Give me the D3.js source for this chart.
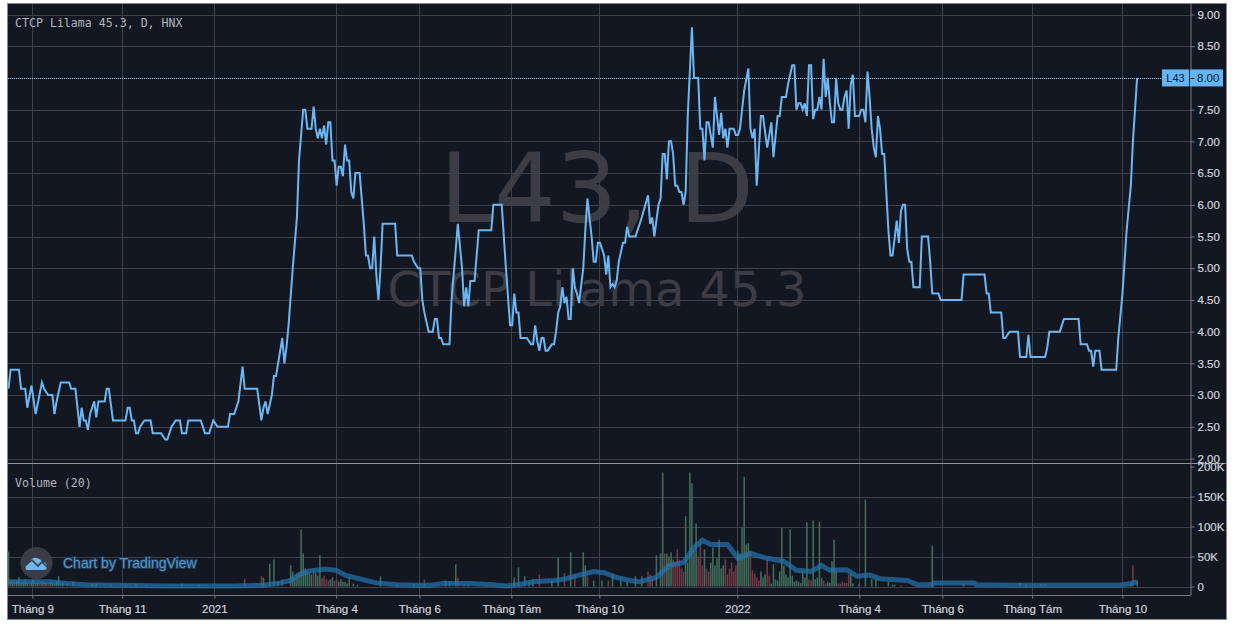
<!DOCTYPE html>
<html lang="vi">
<head>
<meta charset="utf-8">
<title>L43, D</title>
<script src="https://cdn.jsdelivr.net/npm/d3@7"></script>
<style>
  html, body { margin: 0; padding: 0; background: #fff; }
  svg { display: block; }
  .axis text { font-family: "Liberation Sans", Arial, sans-serif; font-size: 11.5px; fill: #d1d4dc; stroke: #d1d4dc; stroke-width: .2px; }
  .axis path, .axis line { stroke: #787b86; }
  .mono { font-family: "DejaVu Sans Mono", monospace; font-size: 11.6px; fill: #b2b5be; }
  .mark { font-family: "DejaVu Sans", sans-serif; fill: #3c3d44; }
</style>
</head>
<body>
<div id="chart"></div>
<script>
const priceBars = [0,1,5,6,8,9,11,13,16,17,19,21,22,23,25,29,30,32,34,35,36,37,38,39,41,42,43,46,47,48,50,56,57,58,59,60,61,62,63,65,68,69,73,75,76,78,80,82,83,85,86,92,94,96,98,100,105,106,108,110,112,113,119,121,122,123,124,126,127,128,131,132,133,134,136,138,139,141,142,143,145,146,147,148,149,150,151,152,153,154,155,156,157,158,159,160,161,162,163,164,165,166,168,170,171,172,173,174,175,176,177,178,179,185,186,193,194,196,197,198,199,201,203,204,205,206,207,208,211,212,215,217,218,219,220,221,223,225,231,232,236,238,240,241,242,243,244,245,248,250,251,252,253,254,255,256,257,258,260,261,262,263,264,265,266,267,268,269,270,271,272,273,275,276,277,279,280,281,282,283,285,286,287,288,289,290,291,292,294,295,296,297,300,301,303,306,307,308,309,311,312,313,314,315,316,317,318,319,320,321,322,323,324,325,327,328,330,331,332,333,334,335,337,338,340,341,342,343,344,345,347,348,349,350,352,354,355,356,357,358,360,361,363,365,366,368,369,370,372,373,375,376,377,378,379,380,381,382,383,384,385,386,387,388,389,390,391,392,393,394,395,396,397,398,399,400,401,402,403,404,405,407,408,409,410,411,412,413,414,415,416,417,418,419,420,421,422,423,425,426,427,428,429,430,431,432,433,436,437,440,441,442,445,446,456,457,467,468,469,470,475,476,477,479,483,484,487,488,489,496,497,498,503,505,512,513,516,517,518,519,520,522,523,530,531,533,534,535,537,538,540];
const priceValues = [3.1,3.4,3.4,3.1,3.1,2.8,3.15,2.7,3.2,3.1,3.0,3.0,2.7,2.9,3.2,3.2,3.1,3.1,2.5,2.8,2.6,2.6,2.45,2.7,2.9,2.65,2.9,2.9,3.1,3.1,2.6,2.6,2.8,2.8,2.6,2.6,2.4,2.4,2.5,2.6,2.6,2.4,2.4,2.3,2.3,2.5,2.6,2.6,2.4,2.4,2.6,2.6,2.4,2.4,2.6,2.5,2.5,2.7,2.7,2.9,3.45,3.1,3.1,2.6,2.8,2.9,2.7,3.0,3.3,3.3,3.9,3.5,3.75,4.1,5.0,5.8,6.7,7.5,7.5,7.2,7.2,7.55,7.2,7.05,7.2,7.05,7.25,6.95,7.3,7.3,6.7,6.7,6.3,6.6,6.6,6.45,6.95,6.7,6.7,6.2,6.1,6.5,6.5,5.7,5.2,5.2,5.0,5.0,5.5,4.9,4.5,5.0,5.7,5.7,5.2,5.2,5.1,5.0,5.0,4.5,4.3,4.0,4.0,4.2,4.2,3.9,3.9,3.8,3.8,4.5,5.7,5.0,4.4,4.7,4.4,4.8,4.8,5.6,5.6,6.0,6.0,5.0,4.1,4.1,4.6,4.3,4.3,3.9,3.9,3.8,3.8,4.1,3.85,3.7,3.9,3.9,3.7,3.7,3.8,3.8,4.0,4.3,4.4,4.7,4.45,4.55,4.2,4.2,5.0,4.7,4.6,4.45,5.0,5.6,6.1,5.5,5.1,5.1,5.4,5.4,5.2,4.9,5.2,4.7,4.75,4.7,4.8,5.1,5.4,5.4,5.65,5.5,5.5,5.6,5.8,6.15,5.7,5.8,5.5,6.0,6.1,6.8,6.8,6.4,7.0,7.0,6.8,6.3,6.3,6.2,6.2,6.0,6.2,7.4,8.8,8.0,8.0,7.2,7.2,6.7,7.3,7.3,6.9,7.7,7.1,7.45,7.05,7.2,6.9,7.2,7.2,7.1,7.1,7.2,7.8,8.15,7.2,7.05,7.2,6.3,7.4,7.4,6.9,7.3,6.75,7.4,7.4,7.7,7.7,7.9,8.2,8.2,7.5,7.6,7.6,7.5,7.6,7.4,8.2,8.2,7.35,7.5,7.5,7.7,7.5,8.3,7.7,8.0,7.6,7.3,7.3,8.0,7.6,7.5,7.5,7.7,7.8,7.2,7.9,8.05,7.4,7.4,7.5,7.5,7.3,8.1,7.7,7.2,6.9,6.75,7.4,7.2,6.8,6.8,6.2,5.6,5.2,5.2,5.75,5.4,5.9,6.0,6.0,5.3,5.1,5.1,4.7,4.7,5.5,5.5,5.1,4.6,4.6,4.5,4.5,4.9,4.9,4.6,4.6,4.3,4.3,3.9,3.9,4.0,4.0,3.6,3.6,3.95,3.6,3.6,3.75,4.0,4.0,4.2,4.2,3.8,3.8,3.7,3.7,3.45,3.7,3.7,3.4,3.4,3.9,4.6,5.1,5.6,6.3,7.0,8.0];

// volume in thousands, up: 1 green, 0 red. low sessions inside the clusters come last
const volumeBars = [0,4,5,8,12,14,17,20,24,31,40,42,49,56,61,66,83,91,113,121,122,125,127,129,131,135,136,138,140,141,142,143,144,145,146,147,149,151,153,155,157,159,163,165,167,178,186,194,199,209,211,214,215,218,220,242,244,247,249,251,254,260,263,266,269,271,275,276,277,280,284,287,289,293,296,300,303,306,307,308,310,312,313,314,315,317,318,320,322,324,326,327,329,331,332,333,335,336,337,339,340,342,343,344,346,347,349,351,352,354,355,356,358,360,362,363,365,366,370,371,374,377,380,382,383,385,387,388,390,392,394,395,397,399,402,403,404,407,410,413,415,421,423,424,427,442,457,484,487,490,494,496,537,538,540,
  1,2,3,6,7,9,10,11,13,15,16,18,19,21,22,23,25,26,28,137,139,148,150,152,154,156,158,160,161,162,316,319,321,323,325,328,330,334,338,341,345,348,350,353,357,359,361,364,367,368,369,372,373,375,376,378,379,381,384,386,389,391,393,396,398,400,401];
const volumeValues = [58,10,15,12,10,8,8,8,17,8,5,5,3,3,4,2,5,3,13,17,15,38,45,8,12,35,25,20,95,55,30,25,22,20,30,22,52,18,10,15,12,12,15,5,3,17,3,3,12,10,9,37,15,3,3,15,32,17,8,12,20,10,48,22,57,20,57,35,17,10,10,10,20,15,8,17,17,25,20,12,52,55,190,55,55,57,45,62,30,117,190,172,105,75,35,62,25,40,65,47,78,35,45,20,40,25,60,98,183,72,60,27,15,25,20,45,5,37,98,35,95,10,25,107,12,110,15,108,10,8,42,78,5,8,20,22,5,5,145,12,12,8,3,3,2,68,5,6,3,2,4,4,6,35,10,
  8,9,7,6,8,7,6,8,6,7,7,6,5,6,5,8,5,6,5,15,20,18,14,12,12,10,8,8,8,5,50,40,45,25,40,60,50,30,35,30,30,35,55,70,22,10,15,18,12,10,25,20,15,18,8,8,6,15,10,12,14,5,6,25,5,6,6];
const volumeUp = [1,1,1,1,1,1,0,1,1,1,1,1,1,1,1,1,1,1,0,0,1,1,1,1,0,1,1,1,1,1,1,1,1,1,0,1,1,0,0,1,0,1,1,1,1,1,1,1,0,1,1,1,0,0,1,1,1,1,1,1,0,1,1,0,1,0,1,1,0,1,1,0,1,1,1,1,1,0,0,0,1,1,1,0,1,1,0,0,0,1,1,1,1,0,0,1,0,1,1,1,1,1,0,0,0,0,1,1,1,1,0,0,0,1,1,0,1,1,1,1,1,1,1,1,0,1,1,1,0,1,1,1,0,0,0,1,1,1,1,1,1,1,1,1,0,1,1,1,1,1,1,1,1,0,1,
  1,1,0,1,1,1,0,1,1,0,1,1,0,1,1,1,0,1,1,1,1,1,0,0,1,0,1,1,1,1,1,0,0,0,1,1,0,0,1,1,0,0,1,1,0,0,1,0,1,1,1,1,1,1,1,1,1,1,0,1,1,0,1,1,0,0,0];

// Volume (20) moving average
const maBars = [0,12,20,28,37,52,76,107,122,130,135,139,144,152,157,161,170,176,186,195,202,208,221,232,238,244,251,261,267,272,280,285,291,299,302,310,316,323,328,332,336,344,349,355,363,371,377,384,389,393,401,406,412,417,430,435,442,443,462,463,487,532,537,540];
const maValues = [8,8,8,5,3,2,1,1,2,6,10,20,26,29,27,19,11,6,3,2,2,5,5,3,1,3,8,10,13,18,25,23,15,9,8,15,35,40,65,77,70,70,47,55,47,42,27,25,35,27,28,17,19,13,10,3,3,6,6,3,2,2,5,8];

const tickBars = [11.4,54.4,98.5,156.8,196.6,240.6,282.7,348.7,407.1,446.8,489.8,533];
const tickLabels = ['Tháng 9','Tháng 11','2021','Tháng 4','Tháng 6','Tháng Tám','Tháng 10','2022','Tháng 4','Tháng 6','Tháng Tám','Tháng 10'];
const priceTicks = [2,2.5,3,3.5,4,4.5,5,5.5,6,6.5,7,7.5,8,8.5,9];
const volumeTicks = [0,50,100,150,200];
const lastPrice = 8;

const width = 1234, height = 628;
const paneLeft = 8, paneRight = 1190.5, paneTop = 4, priceBottom = 463, volumeBottom = 595;

const x = d3.scaleLinear().domain([0, 541]).range([8.5, 8.5 + 541 * 2.09]);
const yPrice = d3.scaleLinear().domain([2, 9]).range([458.5, 14.5]);
const yVolume = d3.scaleLinear().domain([0, 200]).range([586.5, 466.5]);

const svg = d3.select('#chart').append('svg')
  .attr('width', width)
  .attr('height', height);

// Panel
svg.append('rect')
  .attr('x', 7.5)
  .attr('y', 3.5)
  .attr('width', 1219)
  .attr('height', 616)
  .attr('fill', '#131722')
  .attr('stroke', '#8a8a8a');

// Watermark
svg.append('text')
  .attr('class', 'mark')
  .attr('x', 597)
  .attr('y', 222)
  .attr('text-anchor', 'middle')
  .style('font-size', '97px')
  .text('L43, D');
svg.append('text')
  .attr('class', 'mark')
  .attr('x', 597)
  .attr('y', 306)
  .attr('text-anchor', 'middle')
  .style('font-size', '48px')
  .text('CTCP Lilama 45.3');

// Grid
const grid = svg.append('g').attr('stroke', '#3d404a').attr('stroke-width', 1);
grid.selectAll('.gv')
  .data(tickBars)
  .enter().append('line')
  .attr('x1', d => Math.floor(x(d)) + .5)
  .attr('x2', d => Math.floor(x(d)) + .5)
  .attr('y1', paneTop)
  .attr('y2', volumeBottom);
grid.selectAll('.gp')
  .data(priceTicks)
  .enter().append('line')
  .attr('x1', paneLeft)
  .attr('x2', paneRight)
  .attr('y1', d => Math.round(yPrice(d)) + .5)
  .attr('y2', d => Math.round(yPrice(d)) + .5);
grid.selectAll('.gq')
  .data(volumeTicks.slice(0, 4))
  .enter().append('line')
  .attr('x1', paneLeft)
  .attr('x2', paneRight)
  .attr('y1', d => Math.round(yVolume(d)) + .5)
  .attr('y2', d => Math.round(yVolume(d)) + .5);

// Logo
const logo = svg.append('g');
logo.append('circle')
  .attr('cx', 36.5)
  .attr('cy', 563)
  .attr('r', 16)
  .attr('fill', '#3a3d47');
logo.append('path')
  .attr('d', 'M26 570 q-2 -6 3 -7 q2 -6 8 -5 q4 1 5 4 q5 0 5 5 q0 3 -3 3 z')
  .attr('fill', '#6fb6ee');
logo.append('path')
  .attr('d', 'M25 566 L32 560 L38 566 L42 562 L48 568')
  .attr('fill', 'none')
  .attr('stroke', '#3a3d47')
  .attr('stroke-width', 1.6);
svg.append('text')
  .attr('x', 63)
  .attr('y', 568)
  .attr('fill', '#4e97d0')
  .attr('stroke', '#25384d')
  .attr('stroke-width', 2)
  .attr('paint-order', 'stroke')
  .style('font-family', '"Liberation Sans", Arial, sans-serif')
  .style('font-size', '14px')
  .text('Chart by TradingView');

// Volume bars
svg.append('g')
  .selectAll('rect')
  .data(volumeBars)
  .enter().append('rect')
  .attr('x', d => x(d) - .8)
  .attr('width', 1.6)
  .attr('y', (d, i) => yVolume(volumeValues[i]))
  .attr('height', (d, i) => yVolume(0) - yVolume(volumeValues[i]))
  .attr('fill', (d, i) => volumeUp[i] ? '#3f6b5a' : '#6f3945');

// Volume average
svg.append('path')
  .datum(maBars)
  .attr('fill', 'none')
  .attr('stroke', '#2478b5')
  .attr('stroke-opacity', .68)
  .attr('stroke-width', 5)
  .attr('d', d3.line()
    .x(d => x(d))
    .y((d, i) => yVolume(maValues[i]))
  );

// Last price line
svg.append('line')
  .attr('x1', paneLeft)
  .attr('x2', paneRight)
  .attr('y1', Math.round(yPrice(lastPrice)) + .5)
  .attr('y2', Math.round(yPrice(lastPrice)) + .5)
  .attr('stroke', '#7cc0f5')
  .attr('stroke-dasharray', '1 1');

// Price line
svg.append('path')
  .datum(priceBars)
  .attr('fill', 'none')
  .attr('stroke', '#6db6f2')
  .attr('stroke-width', 2)
  .attr('stroke-linejoin', 'miter')
  .attr('d', d3.line()
    .x(d => x(d))
    .y((d, i) => yPrice(priceValues[i]))
  );

// Pane divider
svg.append('line')
  .attr('x1', paneLeft)
  .attr('x2', 1226)
  .attr('y1', priceBottom + .5)
  .attr('y2', priceBottom + .5)
  .attr('stroke', '#8f9196');

// Axes
const priceAxis = svg.append('g')
  .attr('class', 'axis')
  .attr('transform', `translate(${paneRight},0)`)
  .call(d3.axisRight(yPrice).tickValues(priceTicks).tickFormat(d => d.toFixed(2)).tickSize(4).tickPadding(3));
priceAxis.select('.domain').attr('d', `M0.5,${paneTop}V${priceBottom}`);

const volumeAxis = svg.append('g')
  .attr('class', 'axis')
  .attr('transform', `translate(${paneRight},0)`)
  .call(d3.axisRight(yVolume).tickValues(volumeTicks).tickFormat(d => d ? d + 'K' : '0').tickSize(4).tickPadding(3));
volumeAxis.select('.domain').attr('d', `M0.5,${priceBottom}V${volumeBottom}`);

const timeAxis = svg.append('g')
  .attr('class', 'axis')
  .attr('transform', `translate(0,${volumeBottom + .5})`)
  .call(d3.axisBottom(x).tickValues(tickBars).tickFormat((d, i) => tickLabels[i]).tickSize(3).tickPadding(6));
timeAxis.select('.domain').attr('d', `M${paneLeft},0H${paneRight}`);

// Last price labels
svg.append('rect')
  .attr('x', 1162)
  .attr('y', yPrice(lastPrice) - 8.5)
  .attr('width', 27)
  .attr('height', 17)
  .attr('fill', '#64b5f6');
svg.append('rect')
  .attr('x', 1190)
  .attr('y', yPrice(lastPrice) - 8.5)
  .attr('width', 33)
  .attr('height', 17)
  .attr('fill', '#64b5f6');
svg.append('text')
  .attr('x', 1175.5)
  .attr('y', yPrice(lastPrice) + 4)
  .attr('text-anchor', 'middle')
  .attr('fill', '#131722')
  .style('font-family', '"Liberation Sans", Arial, sans-serif')
  .style('font-size', '11px')
  .text('L43');
svg.append('text')
  .attr('x', 1197)
  .attr('y', yPrice(lastPrice) + 4)
  .attr('fill', '#131722')
  .style('font-family', '"Liberation Sans", Arial, sans-serif')
  .style('font-size', '11.5px')
  .text(lastPrice.toFixed(2));
svg.append('line')
  .attr('x1', 1190.5)
  .attr('x2', 1194.5)
  .attr('y1', Math.round(yPrice(lastPrice)) + .5)
  .attr('y2', Math.round(yPrice(lastPrice)) + .5)
  .attr('stroke', '#131722');

// Legends
svg.append('text')
  .attr('class', 'mono')
  .attr('x', 15)
  .attr('y', 27)
  .text('CTCP Lilama 45.3, D, HNX');
svg.append('text')
  .attr('class', 'mono')
  .attr('x', 15)
  .attr('y', 487)
  .text('Volume (20)');
</script>
</body>
</html>
